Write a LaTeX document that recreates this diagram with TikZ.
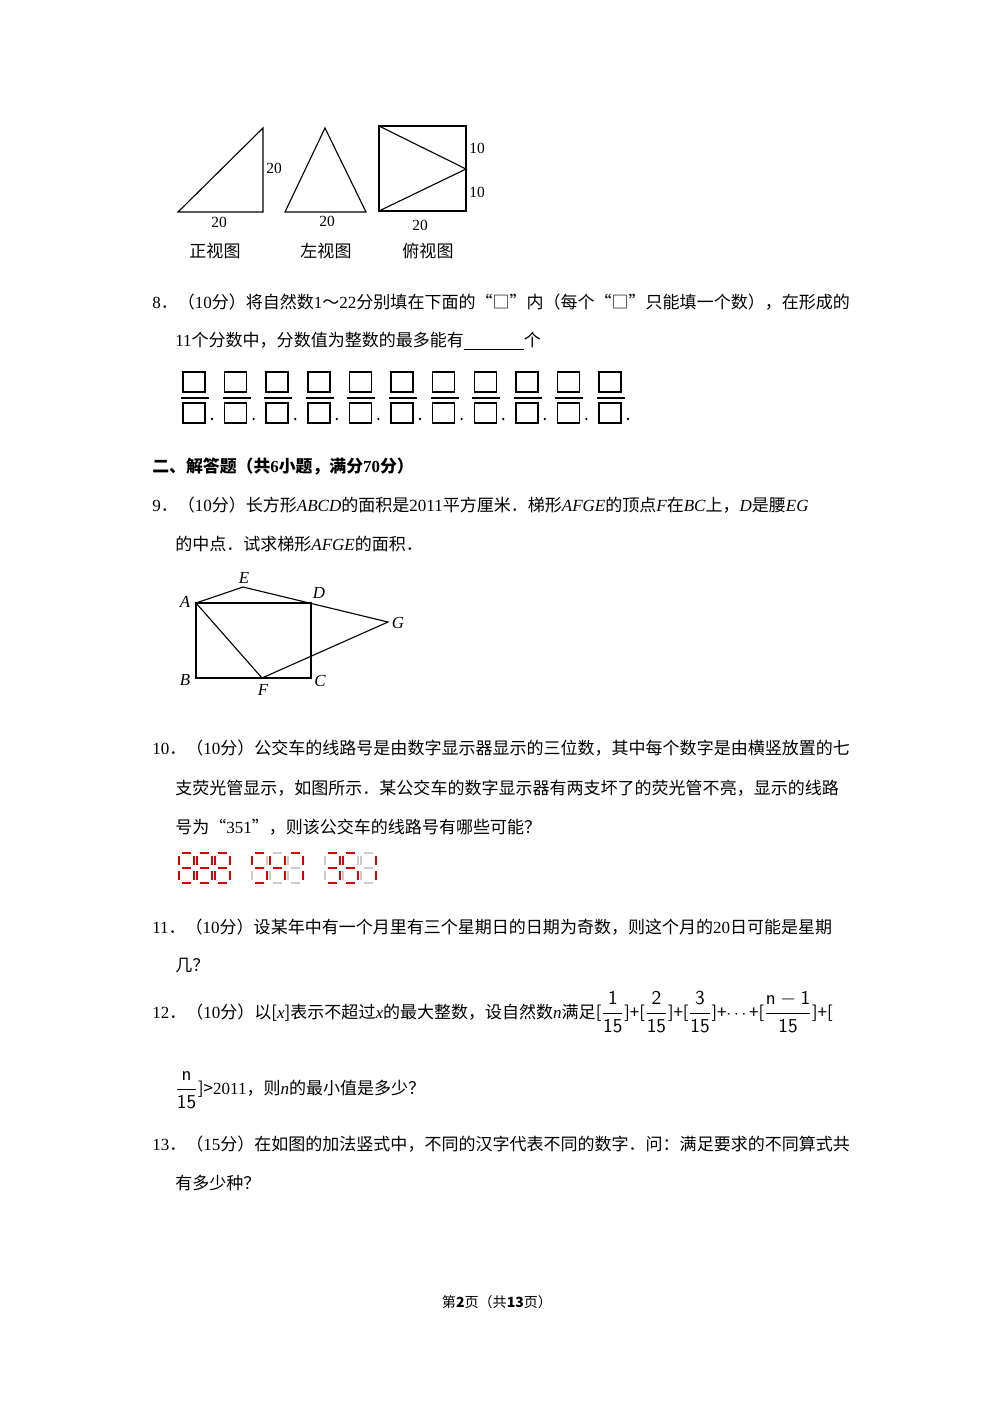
\documentclass[tikz,border=0pt]{standalone}
\usepackage{amsmath}
\usepackage{fontspec}
\setmainfont{Noto Sans CJK SC}
\newfontfamily\tm{Liberation Serif}
\colorlet{R}{red!85!black}
\colorlet{G}{black!20}
\newcommand\sdig[9]{%
\draw[line width=2pt,#3] (#1+3,#2)--(#1+12,#2);
\draw[line width=2pt,#4] (#1+15,#2+3)--(#1+15,#2+12);
\draw[line width=2pt,#5] (#1+15,#2+18)--(#1+15,#2+27);
\draw[line width=2pt,#6] (#1+3,#2+30)--(#1+12,#2+30);
\draw[line width=2pt,#7] (#1,#2+18)--(#1,#2+27);
\draw[line width=2pt,#8] (#1,#2+3)--(#1,#2+12);
\draw[line width=2pt,#9] (#1+3,#2+15)--(#1+12,#2+15);}
\newcommand\fr[2]{{\fontsize{14}{16}\selectfont$\dfrac{\mathsf{#1}}{\mathsf{#2}}$}}
\begin{document}
\begin{tikzpicture}[x=0.025cm,y=-0.025cm,
  txt/.style={anchor=west,inner sep=0pt,font=\fontsize{12.1}{14}\selectfont},
  lab/.style={inner sep=0pt,font=\fontsize{11}{13}\selectfont\tm},
  pt/.style={inner sep=0pt,font=\fontsize{12}{14}\selectfont\tm\itshape},
  fig/.style={line width=0.8pt},
  bx/.style={draw,line width=1pt}]
\useasboundingbox (0,0) rectangle (1000,1415);
% figures
\draw[fig] (178,212)--(263,128)--(263,212)--cycle;
\node[lab] (l1) at (274,168) {20}; \node[lab] (l2) at (219,222) {20};
\draw[fig] (285,212)--(325,128)--(366,212)--cycle;
\node[lab] (l3) at (327,221) {20};
\draw[line width=1pt] (379,126) rectangle (466,211);
\draw[fig] (379,126)--(466,169)--(379,211);
\node[lab] (l4) at (477,148) {10}; \node[lab] (l5) at (477,192) {10};
\node[lab] (l6) at (420,225) {20};
\node[txt,anchor=center] (c1) at (215,251) {正视图};
\node[txt,anchor=center] (c2) at (326,251) {左视图};
\node[txt,anchor=center] (c3) at (428,251) {俯视图};
% q8
\node[txt] (t1) at (152,302) {{\tm 8}．（{\tm 10}分）将自然数{\tm 1}～{\tm 22}分别填在下面的“□”内（每个“□”只能填一个数），在形成的};
\node[txt] (t2) at (175,341) {{\tm 11}个分数中，分数值为整数的最多能有\rule[-2pt]{15mm}{0.5pt}个};
\foreach \i in {0,...,10}{
  \pgfmathsetmacro\xx{183+41.6*\i}
  \draw[bx] (\xx,372) rectangle ++(22,20);
  \draw[line width=0.9pt] (\xx-2,398) -- ++(28,0);
  \draw[bx] (\xx,403) rectangle ++(22,20);
  \fill (\xx+29,419) circle (1.3);
}
% q9
\node[txt,font=\fontsize{12}{14}\selectfont\bfseries] (h2) at (152,467) {二、解答题（共{\tm\bfseries 6}小题，满分{\tm\bfseries 70}分）};
\node[txt] (t3) at (152,505) {{\tm 9}．（{\tm 10}分）长方形{\tm\itshape ABCD}的面积是{\tm 2011}平方厘米．梯形{\tm\itshape AFGE}的顶点{\tm\itshape F}在{\tm\itshape BC}上，{\tm\itshape D}是腰{\tm\itshape EG}};
\node[txt] (t4) at (175,544) {的中点．试求梯形{\tm\itshape AFGE}的面积．};
\coordinate (A) at (196,603); \coordinate (B) at (196,678);
\coordinate (C) at (311,678); \coordinate (D) at (311,603);
\coordinate (E) at (243,587); \coordinate (G) at (388,622); \coordinate (F) at (262,678);
\draw[fig] (A)--(B)--(C)--(D)--cycle;
\draw[fig] (A)--(E)--(G)--(F)--(A);
\node[pt] at (185,602) {A}; \node[pt] at (244,578) {E}; \node[pt] at (319,593) {D};
\node[pt] at (398,623) {G}; \node[pt] at (185,680) {B}; \node[pt] at (263,690) {F};
\node[pt] at (320,681) {C};
% q10
\node[txt] (t5) at (152,748) {{\tm 10}．（{\tm 10}分）公交车的线路号是由数字显示器显示的三位数，其中每个数字是由横竖放置的七};
\node[txt] (t6) at (175,788) {支荧光管显示，如图所示．某公交车的数字显示器有两支坏了的荧光管不亮，显示的线路};
\node[txt] (t7) at (175,827) {号为“{\tm 351}”，则该公交车的线路号有哪些可能？};
\foreach \x in {179,197,215}{\sdig{\x}{853}{R}{R}{R}{R}{R}{R}{R}}
\sdig{252}{853}{R}{G}{R}{R}{G}{R}{R}
\sdig{270}{853}{G}{R}{R}{G}{G}{R}{R}
\sdig{288}{853}{R}{R}{R}{G}{G}{G}{G}
\sdig{325}{853}{R}{R}{R}{R}{G}{G}{R}
\sdig{343}{853}{R}{G}{R}{R}{G}{R}{R}
\sdig{361}{853}{G}{R}{R}{G}{G}{G}{G}
% q11
\node[txt] (t8) at (152,927) {{\tm 11}．（{\tm 10}分）设某年中有一个月里有三个星期日的日期为奇数，则这个月的{\tm 20}日可能是星期};
\node[txt] (t9) at (175,966) {几？};
% q12
\node[txt] (t10) at (152,1012) {{\tm 12}．（{\tm 10}分）以[{\tm\itshape x}]表示不超过{\tm\itshape x}的最大整数，设自然数{\tm\itshape n}满足[\fr{1}{15}]+[\fr{2}{15}]+[\fr{3}{15}]+$\cdots$+[\fr{n-1}{15}]+[};
\node[txt] (t11) at (175,1090) {\fr{n}{15}]>{\tm 2011}，则{\tm\itshape n}的最小值是多少？};
% q13
\node[txt] (t12) at (152,1144) {{\tm 13}．（{\tm 15}分）在如图的加法竖式中，不同的汉字代表不同的数字．问：满足要求的不同算式共};
\node[txt] (t13) at (175,1183) {有多少种？};
\node[inner sep=0pt,font=\fontsize{10}{12}\selectfont] (ft) at (497,1302) {第{\bfseries 2}页（共{\bfseries 13}页）};
\end{tikzpicture}
\end{document}
